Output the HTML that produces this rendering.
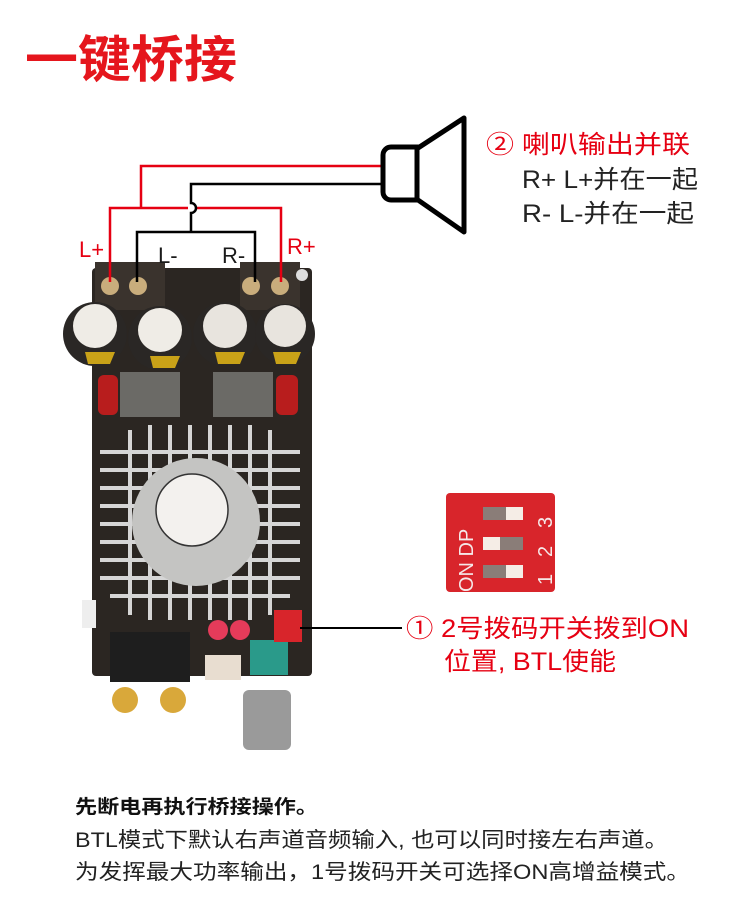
<!DOCTYPE html>
<html><head><meta charset="utf-8"><style>
body{margin:0;width:750px;height:912px;background:#fff;overflow:hidden;font-family:"Liberation Sans","Noto Sans CJK SC",sans-serif}
svg{position:absolute;left:0;top:0}
</style></head><body>
<svg width="750" height="912" viewBox="0 0 750 912" font-family="Liberation Sans, Noto Sans CJK SC, sans-serif">
<text x="25" y="77" font-size="50" font-weight="bold" fill="#e5161d" textLength="212" lengthAdjust="spacingAndGlyphs">一键桥接</text>
<!-- board -->
<rect x="92" y="268" width="220" height="408" rx="4" fill="#2b2622"/>
<rect x="95" y="262" width="70" height="48" fill="#3a332d"/>
<rect x="240" y="262" width="60" height="48" fill="#3a332d"/>
<g fill="#c9ad7c"><circle cx="110" cy="286" r="9"/><circle cx="138" cy="286" r="9"/><circle cx="251" cy="286" r="9"/><circle cx="280" cy="286" r="9"/></g>
<circle cx="302" cy="275" r="6" fill="#ddd"/>
<g><circle cx="95" cy="334" r="32" fill="#2a2725"/><circle cx="95" cy="326" r="22" fill="#efece6"/>
<circle cx="160" cy="338" r="32" fill="#2a2725"/><circle cx="160" cy="330" r="22" fill="#efece6"/>
<circle cx="225" cy="334" r="32" fill="#2a2725"/><circle cx="225" cy="326" r="22" fill="#e8e4de"/>
<circle cx="285" cy="334" r="30" fill="#2a2725"/><circle cx="285" cy="326" r="21" fill="#e8e4de"/>
<path d="M85 352 h30 l-5 12 h-22z M150 356 h30 l-5 12 h-22z M215 352 h30 l-5 12 h-22z M273 352 h28 l-5 12 h-20z" fill="#c9a218"/></g>
<rect x="98" y="375" width="20" height="40" rx="6" fill="#b81d1d"/>
<rect x="276" y="375" width="22" height="40" rx="6" fill="#b81d1d"/>
<rect x="120" y="372" width="60" height="45" fill="#6b6a66"/>
<rect x="213" y="372" width="60" height="45" fill="#6b6a66"/>
<!-- heatsink -->
<g stroke="#d6d6d6" stroke-width="4">
<line x1="100" y1="452" x2="300" y2="452"/><line x1="100" y1="470" x2="300" y2="470"/><line x1="100" y1="488" x2="300" y2="488"/><line x1="100" y1="506" x2="300" y2="506"/><line x1="100" y1="524" x2="300" y2="524"/><line x1="100" y1="542" x2="300" y2="542"/><line x1="100" y1="560" x2="300" y2="560"/><line x1="100" y1="578" x2="300" y2="578"/><line x1="110" y1="596" x2="290" y2="596"/>
<line x1="130" y1="430" x2="130" y2="615"/><line x1="150" y1="425" x2="150" y2="620"/><line x1="170" y1="425" x2="170" y2="620"/><line x1="190" y1="425" x2="190" y2="620"/><line x1="210" y1="425" x2="210" y2="620"/><line x1="230" y1="425" x2="230" y2="620"/><line x1="250" y1="425" x2="250" y2="620"/><line x1="270" y1="430" x2="270" y2="615"/>
</g>
<circle cx="196" cy="522" r="64" fill="#c4c4c2"/>
<circle cx="192" cy="510" r="36" fill="#f3f1ee" stroke="#333" stroke-width="1.5"/>
<rect x="82" y="600" width="14" height="28" fill="#eee"/>
<rect x="110" y="632" width="80" height="50" fill="#1e1e1e"/>
<circle cx="125" cy="700" r="13" fill="#d9a83a"/><circle cx="173" cy="700" r="13" fill="#d9a83a"/>
<rect x="205" y="655" width="36" height="25" fill="#e8ddd0"/>
<circle cx="218" cy="630" r="10" fill="#e53b5a"/><circle cx="240" cy="630" r="10" fill="#e53b5a"/>
<rect x="250" y="640" width="38" height="35" fill="#2a9a8a"/>
<rect x="243" y="690" width="48" height="60" rx="6" fill="#9a9a9a"/>
<rect x="274" y="610" width="28" height="32" fill="#d8252b"/>
<!-- wires -->
<g fill="none" stroke-width="2.5">
<path d="M383 166 H141 V208 M110 282 V208 H188 M196 208 H281 V282" stroke="#e60012"/>
<path d="M383 184 H191 V203 a5 5 0 0 1 0 10 V232 M137 282 V232 H255 V282" stroke="#000"/>
</g>
<path d="M383 155 a8 8 0 0 1 8 -8 h26 v53 h-26 a8 8 0 0 1 -8 -8z" fill="none" stroke="#000" stroke-width="5"/>
<path d="M418 148 L464 118 V232 L418 200" fill="none" stroke="#000" stroke-width="5" stroke-linejoin="round"/>
<text x="79" y="257" font-size="22" fill="#e60012">L+</text>
<text x="158" y="263" font-size="22" fill="#1a1a1a">L-</text>
<text x="222" y="263" font-size="22" fill="#1a1a1a">R-</text>
<text x="287" y="254" font-size="22" fill="#e60012">R+</text>
<text x="486" y="153" font-size="25" fill="#e60012" textLength="204" lengthAdjust="spacingAndGlyphs">② 喇叭输出并联</text>
<text x="522" y="188" font-size="25" fill="#222" textLength="176" lengthAdjust="spacingAndGlyphs">R+ L+并在一起</text>
<text x="522" y="222" font-size="25" fill="#222" textLength="172" lengthAdjust="spacingAndGlyphs">R- L-并在一起</text>
<!-- dip -->
<rect x="446" y="493" width="109" height="99" rx="4" fill="#d8252b"/>
<g fill="#8a7d78"><rect x="483" y="507" width="40" height="13"/><rect x="483" y="537" width="40" height="13"/><rect x="483" y="565" width="40" height="13"/></g>
<g fill="#f5ede6"><rect x="506" y="507" width="17" height="13"/><rect x="483" y="537" width="17" height="13"/><rect x="506" y="565" width="17" height="13"/></g>
<g font-size="20" fill="#f5e8e8"><text transform="translate(473,592) rotate(-90)">ON DP</text>
<text transform="translate(552,585) rotate(-90)">1</text><text transform="translate(552,557) rotate(-90)">2</text><text transform="translate(552,528) rotate(-90)">3</text></g>
<line x1="300" y1="628" x2="402" y2="628" stroke="#000" stroke-width="2"/>
<text x="406" y="637" font-size="25" fill="#e60012" textLength="283" lengthAdjust="spacingAndGlyphs">① 2号拨码开关拨到ON</text>
<text x="444" y="670" font-size="25" fill="#e60012" textLength="172" lengthAdjust="spacingAndGlyphs">位置, BTL使能</text>
<text x="75" y="813" font-size="19" font-weight="bold" fill="#111" textLength="243" lengthAdjust="spacingAndGlyphs">先断电再执行桥接操作。</text>
<text x="75" y="847" font-size="21" fill="#222" textLength="593" lengthAdjust="spacingAndGlyphs">BTL模式下默认右声道音频输入, 也可以同时接左右声道。</text>
<text x="75" y="879" font-size="21" fill="#222" textLength="615" lengthAdjust="spacingAndGlyphs">为发挥最大功率输出，1号拨码开关可选择ON高增益模式。</text>
</svg>
</body></html>
